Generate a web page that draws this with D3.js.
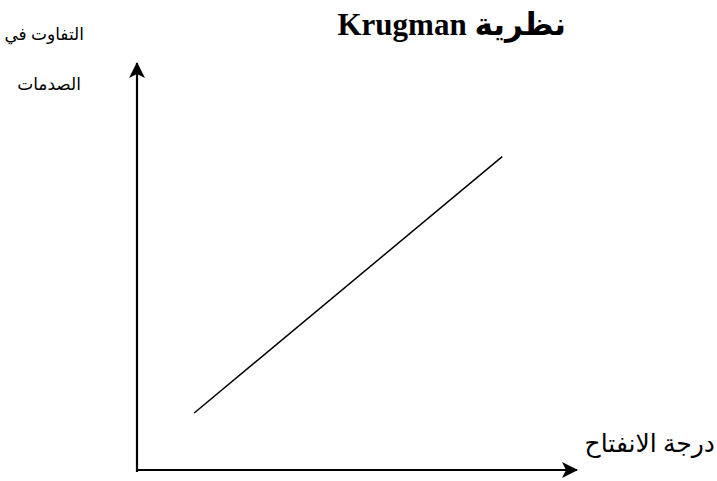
<!DOCTYPE html>
<html>
<head>
<meta charset="utf-8">
<script src="https://cdn.jsdelivr.net/npm/d3@7"></script>
<style>
  body { margin: 0; background: #fff; }
  svg text { font-family: "Times New Roman", "Liberation Serif", "DejaVu Sans", serif; fill: #000; }
</style>
</head>
<body>
<svg width="717" height="481"></svg>
<script>
// chart data
var title = "نظرية Krugman";
var xLabel = "درجة الانفتاح";
var yLabel = ["التفاوت في", "الصدمات"];
var xDomain = [0, 10];
var yDomain = [0, 10];
var lineX = [1.3, 8.3];
var lineY = [1.4, 7.7];

var svg = d3.select("svg");

var x = d3.scaleLinear().domain(xDomain).range([137, 577]);
var y = d3.scaleLinear().domain(yDomain).range([470, 63]);

// arrow head
svg.append("defs").append("marker")
    .attr("id", "arrow")
    .attr("viewBox", "0 0 16 16")
    .attr("refX", 15)
    .attr("refY", 8)
    .attr("markerWidth", 16)
    .attr("markerHeight", 16)
    .attr("markerUnits", "userSpaceOnUse")
    .attr("orient", "auto")
    .append("path")
    .attr("d", "M0,0 L16,8 L0,16 L4,8 Z")
    .attr("fill", "#000");

// axes
svg.append("line")
    .attr("x1", x(0)).attr("y1", y(0) + 2)
    .attr("x2", x(0)).attr("y2", y(yDomain[1]))
    .attr("stroke", "#000").attr("stroke-width", 2.2)
    .attr("marker-end", "url(#arrow)");

svg.append("line")
    .attr("x1", x(0) - 1).attr("y1", y(0))
    .attr("x2", x(xDomain[1])).attr("y2", y(0))
    .attr("stroke", "#000").attr("stroke-width", 2.2)
    .attr("marker-end", "url(#arrow)");

// the line
var pts = lineX.map((v, i) => [v, lineY[i]]);
svg.append("path")
    .datum(pts)
    .attr("d", d3.line().x(d => x(d[0])).y(d => y(d[1])))
    .attr("fill", "none")
    .attr("stroke", "#000")
    .attr("stroke-width", 1.5);

// texts (rtl: "start" is the right edge)
svg.append("text")
    .attr("x", 566).attr("y", 35)
    .attr("text-anchor", "start")
    .attr("direction", "rtl")
    .style("font-size", "31px")
    .style("font-weight", "bold")
    .text(title);

svg.append("text")
    .attr("x", 84).attr("y", 40)
    .attr("text-anchor", "start")
    .attr("direction", "rtl")
    .style("font-size", "17px")
    .text(yLabel[0]);

svg.append("text")
    .attr("x", 81).attr("y", 90)
    .attr("text-anchor", "start")
    .attr("direction", "rtl")
    .style("font-size", "17px")
    .text(yLabel[1]);

svg.append("text")
    .attr("x", 715).attr("y", 452)
    .attr("text-anchor", "start")
    .attr("direction", "rtl")
    .style("font-size", "25px")
    .text(xLabel);
</script>
</body>
</html>
